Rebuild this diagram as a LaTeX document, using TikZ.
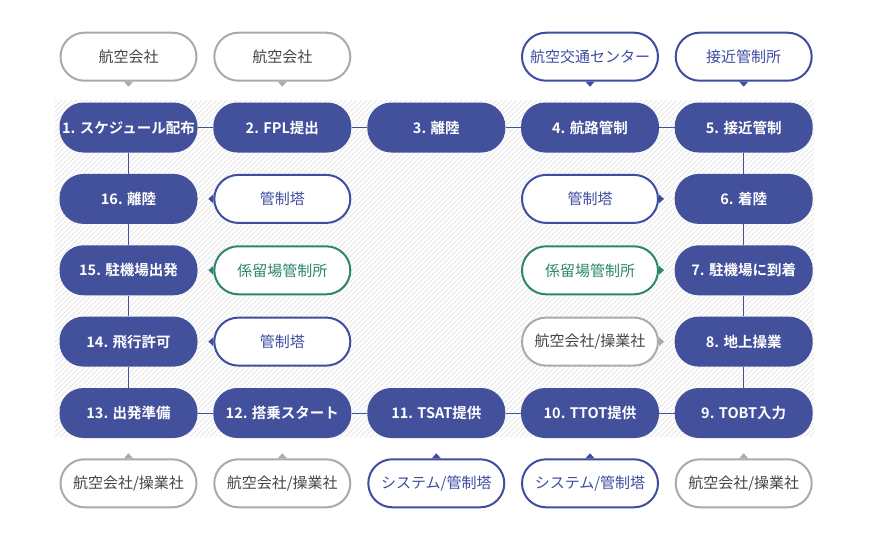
\documentclass[tikz,border=0pt]{standalone}
\usepackage{fontspec}
\setmainfont{Noto Sans CJK JP}[BoldFont={* Bold}]
\definecolor{mainblue}{HTML}{43509C}
\definecolor{lblue}{HTML}{3F4DA0}
\definecolor{lgreen}{HTML}{2C8570}
\definecolor{lgray}{HTML}{AAAAAA}
\definecolor{tgray}{HTML}{444444}
\definecolor{hatchc}{HTML}{E6E6E6}
\tikzset{
  mainbox/.style={rectangle, rounded corners=24pt, minimum width=138pt, minimum height=50pt, inner sep=0pt,
    fill=mainblue, text=white, font=\fontsize{14.5}{16}\selectfont\bfseries},
  lab/.style={rectangle, rounded corners=24pt, minimum width=136pt, minimum height=48pt, inner sep=0pt,
    fill=white, line width=2pt, font=\fontsize{15}{16}\selectfont},
  labblue/.style={lab, draw=lblue, text=lblue},
  labgreen/.style={lab, draw=lgreen, text=lgreen},
  labgray/.style={lab, draw=lgray, text=tgray},
  conn/.style={draw=mainblue, line width=1pt},
}
\newcommand{\ptrdown}[2]{\fill[#2] ([xshift=-4.5pt]#1.south) -- ([yshift=-5pt]#1.south) -- ([xshift=4.5pt]#1.south) -- cycle;}
\newcommand{\ptrup}[2]{\fill[#2] ([xshift=-4.5pt]#1.north) -- ([yshift=5pt]#1.north) -- ([xshift=4.5pt]#1.north) -- cycle;}
\newcommand{\ptrleft}[2]{\fill[#2] ([yshift=-4.5pt]#1.west) -- ([xshift=-5pt]#1.west) -- ([yshift=4.5pt]#1.west) -- cycle;}
\newcommand{\ptrright}[2]{\fill[#2] ([yshift=-4.5pt]#1.east) -- ([xshift=5pt]#1.east) -- ([yshift=4.5pt]#1.east) -- cycle;}
\begin{document}
\begin{tikzpicture}[x=1pt,y=-1pt]
\useasboundingbox (0,0) rectangle (870,539);
% hatched background
\begin{scope}
\clip (55,100) rectangle (814,437);
\foreach \i in {-340,-335,...,820} {
  \draw[hatchc, line width=0.8pt] (\i,437) -- (\i+337,100);
}
\end{scope}
% columns and rows
\def\ca{128.5}\def\cb{282.3}\def\cc{436.3}\def\cd{590}\def\ce{743.7}
\def\ra{127.5}\def\rb{198.9}\def\rc{270.3}\def\rd{341.6}\def\re{413}
% main boxes
\node[mainbox] (n1) at (\ca,\ra) {1. スケジュール配布};
\node[mainbox] (n2) at (\cb,\ra) {2. FPL提出};
\node[mainbox] (n3) at (\cc,\ra) {3. 離陸};
\node[mainbox] (n4) at (\cd,\ra) {4. 航路管制};
\node[mainbox] (n5) at (\ce,\ra) {5. 接近管制};
\node[mainbox] (n6) at (\ce,\rb) {6. 着陸};
\node[mainbox] (n7) at (\ce,\rc) {7. 駐機場に到着};
\node[mainbox] (n8) at (\ce,\rd) {8. 地上操業};
\node[mainbox] (n9) at (\ce,\re) {9. TOBT入力};
\node[mainbox] (n10) at (\cd,\re) {10. TTOT提供};
\node[mainbox] (n11) at (\cc,\re) {11. TSAT提供};
\node[mainbox] (n12) at (\cb,\re) {12. 搭乗スタート};
\node[mainbox] (n13) at (\ca,\re) {13. 出発準備};
\node[mainbox] (n14) at (\ca,\rd) {14. 飛行許可};
\node[mainbox] (n15) at (\ca,\rc) {15. 駐機場出発};
\node[mainbox] (n16) at (\ca,\rb) {16. 離陸};
% connectors
\draw[conn] (n1) -- (n2) (n2) -- (n3) (n3) -- (n4) (n4) -- (n5);
\draw[conn] (n5) -- (n6) (n6) -- (n7) (n7) -- (n8) (n8) -- (n9);
\draw[conn] (n9) -- (n10) (n10) -- (n11) (n11) -- (n12) (n12) -- (n13);
\draw[conn] (n13) -- (n14) (n14) -- (n15) (n15) -- (n16) (n16) -- (n1);
% top labels
\node[labgray] (t1) at (\ca,56.7) {航空会社};
\node[labgray] (t2) at (\cb,56.7) {航空会社};
\node[labblue] (t4) at (\cd,56.7) {航空交通センター};
\node[labblue] (t5) at (\ce,56.7) {接近管制所};
\ptrdown{t1}{lgray}\ptrdown{t2}{lgray}\ptrdown{t4}{lblue}\ptrdown{t5}{lblue}
% side labels
\node[labblue] (s2l) at (\cb,\rb) {管制塔};
\node[labblue] (s2r) at (\cd,\rb) {管制塔};
\node[labgreen] (s3l) at (\cb,\rc) {係留場管制所};
\node[labgreen] (s3r) at (\cd,\rc) {係留場管制所};
\node[labblue] (s4l) at (\cb,\rd) {管制塔};
\node[labgray] (s4r) at (\cd,\rd) {航空会社/操業社};
\ptrleft{s2l}{lblue}\ptrright{s2r}{lblue}
\ptrleft{s3l}{lgreen}\ptrright{s3r}{lgreen}
\ptrleft{s4l}{lblue}\ptrright{s4r}{lgray}
% bottom labels
\node[labgray] (b1) at (\ca,483.3) {航空会社/操業社};
\node[labgray] (b2) at (\cb,483.3) {航空会社/操業社};
\node[labblue] (b3) at (\cc,483.3) {システム/管制塔};
\node[labblue] (b4) at (\cd,483.3) {システム/管制塔};
\node[labgray] (b5) at (\ce,483.3) {航空会社/操業社};
\ptrup{b1}{lgray}\ptrup{b2}{lgray}\ptrup{b3}{lblue}\ptrup{b4}{lblue}\ptrup{b5}{lgray}
\end{tikzpicture}
\end{document}
